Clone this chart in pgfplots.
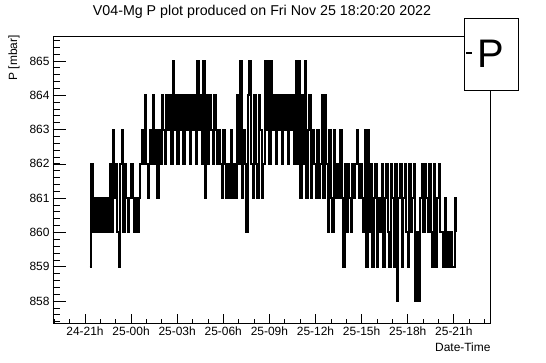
\documentclass[border=0pt]{standalone}
\usepackage{fontspec}
\setmainfont{Liberation Sans}
\usepackage{pgfplots}
\pgfplotsset{compat=1.18}
\begin{document}
\begin{tikzpicture}[x=1bp,y=1bp]
\useasboundingbox (-53,-39) rectangle (493,323);
\begin{axis}[
  at={(0,0)}, anchor=south west,
  scale only axis, width=437.7bp, height=287bp,
  xmin=-2.08, xmax=26.4, ymin=857.358, ymax=865.729,
  axis line style={line width=0.9bp},
  tick align=inside, xtick pos=left, ytick pos=left,
  xtick={0,3,...,24},
  xticklabels={24-21h,25-00h,25-03h,25-06h,25-09h,25-12h,25-15h,25-18h,25-21h},
  minor xtick={-2,-1,...,26},
  ytick={858,859,...,865},
  minor ytick={857.4,857.6,...,865.6},
  xtick style={/pgfplots/major tick length=8.6bp,/pgfplots/minor tick length=4.3bp,line width=0.7bp,black},
  ytick style={/pgfplots/major tick length=13bp,/pgfplots/minor tick length=6.5bp,line width=0.7bp,black},
  /pgf/number format/assume math mode=true,
  /pgf/number format/1000 sep={},
  tick label style={font=\fontsize{12}{14}\selectfont},
  xlabel={Date-Time},
  xlabel style={at={(axis description cs:1,-0.0836)}, anchor=east, inner sep=0pt, font=\fontsize{12}{14}\selectfont},
  ylabel={P [mbar]},
  ylabel style={at={(axis description cs:-0.0891,1.003)}, anchor=east, inner sep=0pt, font=\fontsize{12}{14}\selectfont},
  every axis title shift=0pt,
  title={V04-Mg P plot produced on Fri Nov 25 18:20:20 2022},
  title style={at={(axis description cs:0.4775,1.0836)}, anchor=center, inner sep=0pt, font=\fontsize{14.3}{16}\selectfont},
  clip=true,
]
\addplot[black, line width=1.9bp, mark=none, const plot, line join=miter] coordinates {
(0.3,859)(0.4,862)(0.5,860)(0.6,861)(0.7,860)(0.8,861)(0.9,860)(1.0,861)(1.1,860)(1.2,861)(1.3,860)(1.4,861)(1.5,860)
(1.6,862)(1.7,860)(1.8,863)(1.9,861)(2.0,862)(2.1,860)(2.2,859)(2.3,862)(2.4,863)(2.5,860)(2.6,862)(2.7,861)(2.8,860)
(2.9,861)(3.0,862)(3.1,861)(3.2,860)(3.3,861)(3.4,860)(3.5,861)
(3.6,862)(3.7,863)(3.8,862)(3.9,864)(4.0,862)(4.1,861)(4.2,863)(4.3,862)(4.4,864)(4.5,862)(4.6,863)(4.7,861)(4.8,863)(4.9,862)(5.0,864)(5.1,863)(5.2,862)
(5.3,864)(5.4,863)(5.5,864)(5.6,862)(5.7,865)(5.8,863)(5.9,864)(6.0,862)(6.1,864)(6.2,863)(6.3,864)(6.4,862)(6.5,864)
(6.6,863)(6.7,864)(6.8,862)(6.9,864)(7.0,863)(7.1,864)(7.2,862)(7.3,865)(7.4,863)(7.5,864)(7.6,862)(7.7,865)(7.8,861)
(7.9,864)(8.0,862)(8.1,864)(8.2,863)(8.3,862)(8.4,864)(8.5,863)
(8.6,862)(8.7,863)(8.8,862)(8.9,861)(9.0,863)(9.1,862)(9.2,861)(9.3,862)(9.4,861)(9.5,863)(9.6,861)(9.7,862)(9.8,861)
(9.9,864)(10.0,862)(10.1,865)(10.2,861)(10.3,863)(10.4,862)(10.5,860)(10.6,864)(10.7,865)(10.8,862)(10.9,861)(11.0,864)(11.1,862)(11.2,861)(11.3,864)(11.4,863)(11.5,861)(11.6,862)
(11.7,865)(11.8,863)(11.9,865)(12.0,862)(12.1,865)(12.2,863)(12.3,864)(12.4,862)
(12.5,864)(12.6,863)(12.7,864)(12.8,862)(12.9,864)(13.0,863)(13.1,864)(13.2,862)(13.3,864)(13.4,863)(13.5,864)(13.6,862)
(13.7,865)(13.8,862)(13.9,865)(14.0,861)(14.1,864)(14.2,862)(14.3,865)
(14.4,861)(14.5,863)(14.6,864)(14.7,861)(14.8,863)(14.9,862)(15.0,861)(15.1,863)(15.2,861)(15.3,862)(15.4,864)(15.5,861)(15.6,864)
(15.7,862)(15.8,860)(15.9,863)(16.0,861)(16.1,860)(16.2,863)(16.3,861)(16.4,862)(16.5,861)(16.6,863)(16.7,861)(16.8,859)(16.9,862)(17.0,860)(17.1,862)(17.2,861)(17.3,860)(17.4,862)
(17.5,861)(17.6,862)(17.7,863)(17.8,861)(17.9,862)(18.0,861)(18.1,860)(18.2,863)
(18.3,859)(18.4,863)(18.5,860)(18.6,862)(18.7,859)(18.8,861)(18.9,862)(19.0,859)(19.1,861)(19.2,860)(19.3,862)(19.4,859)(19.5,861)(19.6,862)(19.7,860)(19.8,859)(19.9,862)(20.0,861)
(20.1,859)(20.2,862)(20.3,858)(20.4,861)(20.5,862)(20.6,859)(20.7,861)(20.8,862)(20.9,860)(21.0,859)(21.1,862)(21.2,860)(21.3,861)
(21.4,862)(21.5,858)(21.6,860)(21.7,858)(21.8,861)(21.9,862)(22.0,860)(22.1,862)(22.2,861)(22.3,860)(22.4,862)(22.5,860)(22.6,859)(22.7,862)(22.8,859)(22.9,861)(23.0,862)(23.1,860)
(23.2,860)(23.3,859)(23.4,861)(23.5,859)(23.6,860)(23.7,859)(23.8,860)(23.9,859)(24.0,859)(24.1,861)(24.15,860)
};
\end{axis}
\draw[line width=0.9bp, fill=white] (411,305) rectangle (465,233);
\draw[line width=1.5bp] (413,270) -- (419,270);
\node[anchor=center, inner sep=0pt, font=\fontsize{40}{40}\selectfont] at (438,269) {P};
\end{tikzpicture}
\end{document}
